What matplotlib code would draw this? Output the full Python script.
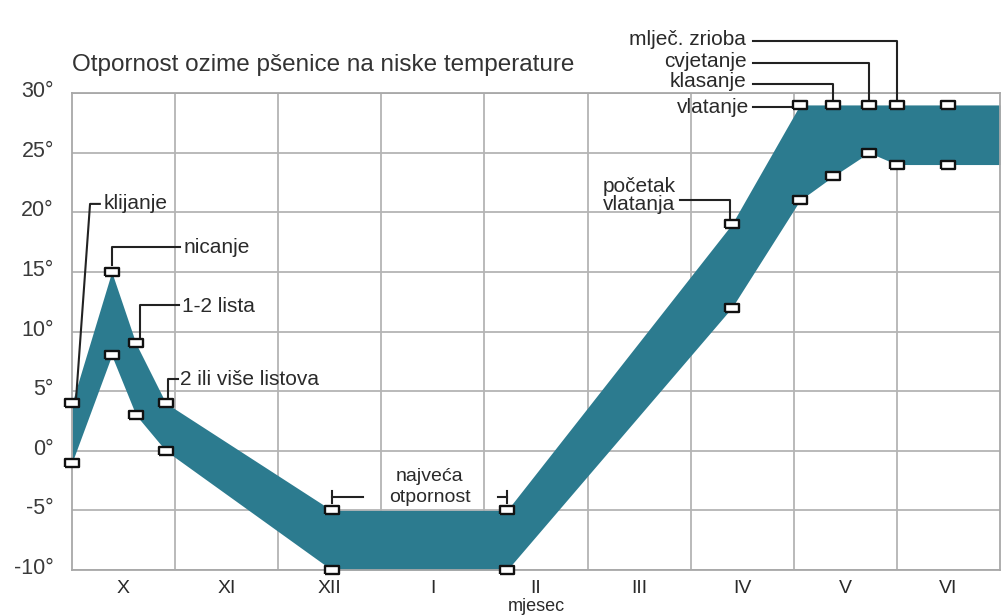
import matplotlib.pyplot as plt
import matplotlib.transforms as mtransforms

plt.rcParams['font.family'] = ['Liberation Sans', 'DejaVu Sans']

# mjeseci (stupci) i granice otpornosti u °C
months = ['X', 'XI', 'XII', 'I', 'II', 'III', 'IV', 'V', 'VI']
x_pts = [0, 0.385, 0.62, 0.91, 2.52, 4.22, 6.40, 7.06, 7.38, 7.73, 8.0, 8.5, 9.0]
upper = [4, 15, 9, 4, -5, -5, 19, 29, 29, 29, 29, 29, 29]
lower = [-1, 8, 3, 0, -10, -10, 12, 21, 23, 25, 24, 24, 24]
marker_n = 12  # zadnja tocka (rub) nema oznake
yticks = [-10, -5, 0, 5, 10, 15, 20, 25, 30]

band = '#2c7b8f'
ink = '#2a2a2a'

fig = plt.figure(figsize=(10.08, 6.16), dpi=100)
ax = fig.add_axes([72/1008, 46/616, 928/1008, 477/616])

ax.fill_between(x_pts, lower, upper, color=band, lw=0, zorder=2)

rect = [(-1, -0.5), (1, -0.5), (1, 0.5), (-1, 0.5), (-1, -0.5)]
for ys in (upper, lower):
    ax.plot(x_pts[:marker_n], ys[:marker_n], ls='none', marker=rect, ms=10.5,
            mfc='white', mec='#111111', mew=1.7, zorder=5, clip_on=False)

ax.set_xlim(0, 9)
ax.set_ylim(-10, 30)
ax.set_xticks([i + 0.5 for i in range(len(months))])
ax.set_xticklabels(months, fontsize=14, color=ink)
ax.set_xticks(range(1, 9), minor=True)
ax.set_yticks(yticks)
ax.set_yticklabels([f'{v}°' for v in yticks], fontsize=15.5, color='#3a3a3a')
ax.tick_params(which='both', length=0)
ax.tick_params(axis='x', pad=7)
ax.tick_params(axis='y', pad=13)
off = mtransforms.ScaledTranslation(0, 4/100, fig.dpi_scale_trans)
for lab in ax.get_yticklabels():
    lab.set_transform(lab.get_transform() + off)

ax.grid(True, axis='y', which='major', color='#b4b4b4', lw=1.3, zorder=1)
ax.grid(True, axis='x', which='minor', color='#b4b4b4', lw=1.3, zorder=1)
for s in ax.spines.values():
    s.set_color('#a8a8a8')
    s.set_linewidth(1.3)

ax.set_xlabel('mjesec', fontsize=13, color=ink, labelpad=1)

fig.text(72/1008, 1 - 65/616, 'Otpornost ozime pšenice na niske temperature',
         fontsize=17.5, color='#333333', va='center', ha='left')

lk = dict(color='#222222', lw=1.5, zorder=4, clip_on=False)
tk = dict(fontsize=15, color=ink, va='center')

# lijeva strana
ax.plot([0.04, 0.175, 0.27], [4.45, 20.7, 20.7], **lk)
ax.text(0.31, 20.7, 'klijanje', ha='left', **tk)
ax.plot([0.39, 0.39, 1.05], [15.6, 17.1, 17.1], **lk)
ax.text(1.08, 17.05, 'nicanje', ha='left', **tk)
ax.plot([0.655, 0.655, 1.04], [9.4, 12.2, 12.2], **lk)
ax.text(1.065, 12.1, '1-2 lista', ha='left', **tk)
ax.plot([0.93, 0.93, 1.03], [4.5, 6.0, 6.0], **lk)
ax.text(1.05, 6.0, '2 ili više listova', ha='left', **tk)

# najveca otpornost
ax.plot([2.52, 2.52], [-3.35, -4.35], **lk)
ax.plot([2.52, 2.82], [-3.86, -3.86], **lk)
ax.plot([4.13, 4.22], [-3.86, -3.86], **lk)
ax.plot([4.22, 4.22], [-3.35, -4.35], **lk)
ax.text(3.47, -2.2, 'najveća', ha='center', fontsize=14, color=ink, va='center')
ax.text(3.47, -3.9, 'otpornost', ha='center', fontsize=14, color=ink, va='center')

# desna strana
ax.plot([5.9, 6.38, 6.38], [21.0, 21.0, 19.45], **lk)
ax.text(5.15, 21.4, 'početak\nvlatanja', ha='left', linespacing=0.95, **tk)
ax.plot([6.6, 6.99], [28.8, 28.8], **lk)
ax.text(6.57, 28.8, 'vlatanje', ha='right', **tk)
ax.plot([6.6, 7.38, 7.38], [30.75, 30.75, 29.4], **lk)
ax.text(6.54, 30.95, 'klasanje', ha='right', **tk)
ax.plot([6.6, 7.73, 7.73], [32.5, 32.5, 29.4], **lk)
ax.text(6.54, 32.6, 'cvjetanje', ha='right', **tk)
ax.plot([6.6, 8.0, 8.0], [34.4, 34.4, 29.4], **lk)
ax.text(6.54, 34.45, 'mlječ. zrioba', ha='right', **tk)

fig.savefig('out.png', dpi=100)
